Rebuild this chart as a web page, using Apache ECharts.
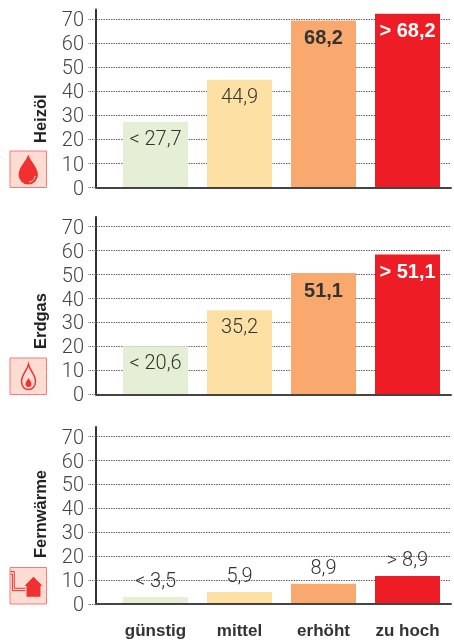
<!DOCTYPE html>
<html>
<head>
<meta charset="utf-8">
<style>
  html, body { margin: 0; padding: 0; background: #fff; }
  #chart { width: 454px; height: 641px; }
</style>
<script src="https://cdn.jsdelivr.net/npm/echarts@6/dist/echarts.min.js"></script>
</head>
<body>
<div id="chart"></div>
<script>
// Kategorien und Werte
const categories = ['günstig', 'mittel', 'erhöht', 'zu hoch']
const panelNames = ['Heizöl', 'Erdgas', 'Fernwärme']
const tickValues = [0, 10, 20, 30, 40, 50, 60, 70]

const heizoelValues = [27.4, 44.8, 69.4, 72.2]
const erdgasValues = [20.1, 35.1, 50.6, 58.4]
const fernwaermeValues = [3.0, 5.1, 8.5, 11.8]

const heizoelLabels = ['< 27,7', '44,9', '68,2', '> 68,2']
const erdgasLabels = ['< 20,6', '35,2', '51,1', '> 51,1']
const fernwaermeLabels = ['< 3,5', '5,9', '8,9', '> 8,9']

const barColors = ['#e5efd6', '#fde1a4', '#f9a96e', '#ee1c25']

const panels = [
  { name: panelNames[0], values: heizoelValues, labels: heizoelLabels, top: 9.5, bottom: 187.6 },
  { name: panelNames[1], values: erdgasValues, labels: erdgasLabels, top: 217, bottom: 394.4 },
  { name: panelNames[2], values: fernwaermeValues, labels: fernwaermeLabels, top: 427, bottom: 604.2, outside: true }
]

const font = 'Roboto, "Liberation Sans", sans-serif'
const boldFont = '"Liberation Sans", Arimo, sans-serif'
const dotted = { color: '#666', width: 1, type: [1.5, 1] }

const grid = []
const xAxis = []
const yAxis = []
const series = []
const graphic = []

// Tropfen, Flamme, Haus
const dropPath = 'M10 0C12 7 20 13 20 21A10 10 0 0 1 0 21C0 13 8 7 10 0Z'
const flamePath = 'M10 0C12 9 20 15 20 24C20 32 15 36 10 36C5 36 0 32 0 24C0 15 8 9 10 0Z'
const innerFlamePath = 'M5 0C6 3 10 6 10 10A5 5 0 0 1 0 10C0 6 4 3 5 0Z'
const housePath = 'M9 0L18 9L16 9L16 20L2 20L2 9L0 9Z'
const pipePath = 'M0 0H4V18H16M0 3H2V20.5H16'
const glossPath = 'M0 6C3 6 6 3 6 0'

function iconPath(d, x, y, w, h, style) {
  return { type: 'path', shape: { pathData: d, x: x, y: y, width: w, height: h, layout: 'center' }, style: style }
}

panels.forEach((p, i) => {
  const height = p.bottom - p.top
  // Achsen und Gitterlinien
  grid.push({ left: 96, width: 355, top: p.top, height: height })
  xAxis.push({
    type: 'category', gridIndex: i * 2, data: [], z: 5,
    axisLine: { lineStyle: { color: '#444', width: 2 } },
    axisTick: { show: false }, axisLabel: { show: false }
  })
  yAxis.push({
    type: 'value', gridIndex: i * 2, min: 0, max: 74, interval: 10,
    axisLine: { show: true, lineStyle: { color: '#333', width: 2 } },
    axisTick: { show: true, length: 8, lineStyle: dotted, customValues: tickValues },
    axisLabel: {
      margin: 12,
      customValues: tickValues,
      formatter: '{t|{value}}',
      rich: { t: { color: '#444', fontFamily: font, fontSize: 20, fontWeight: 300, padding: [4, 0, 0, 0] } }
    },
    splitLine: { show: true, lineStyle: dotted, customValues: tickValues }
  })
  // Balken
  grid.push({ left: 113.5, width: 336, top: p.top, height: height })
  xAxis.push({
    type: 'category', gridIndex: i * 2 + 1, data: categories,
    axisLine: { show: false }, axisTick: { show: false },
    axisLabel: i === 2
      ? { color: '#333', fontFamily: boldFont, fontWeight: 'bold', fontSize: 17, margin: 19 }
      : { show: false }
  })
  yAxis.push({ type: 'value', gridIndex: i * 2 + 1, min: 0, max: 74, show: false, splitLine: { show: false } })
  series.push({
    type: 'bar',
    xAxisIndex: i * 2 + 1,
    yAxisIndex: i * 2 + 1,
    barWidth: 65,
    data: p.values.map((v, k) => ({
      value: v,
      itemStyle: { color: barColors[k] },
      label: {
        show: true,
        formatter: p.labels[k],
        position: p.outside ? 'top' : 'insideTop',
        distance: p.outside ? 5 : 8,
        fontFamily: (!p.outside && k >= 2) ? boldFont : font,
        fontWeight: (!p.outside && k >= 2) ? 'bold' : 300,
        fontSize: 20,
        color: (!p.outside && k === 3) ? '#fff' : '#333'
      }
    }))
  })
})

// Beschriftung links
const nameBottoms = [143, 349, 558]
const iconTops = [151, 358, 567.5]
panels.forEach((p, i) => {
  graphic.push({
    type: 'text', x: 41, y: nameBottoms[i], rotation: Math.PI / 2,
    style: { text: p.name, fill: '#222', font: 'bold 16.5px ' + boldFont, textAlign: 'left', textVerticalAlign: 'middle' }
  })
  graphic.push({
    type: 'rect', shape: { x: 10, y: iconTops[i], width: 36.5, height: 36.5 },
    style: { fill: '#fddcd2', stroke: '#f77b78', lineWidth: 1 }
  })
})

const red = { fill: '#ef3131' }
series.push({
  type: 'custom',
  coordinateSystem: 'none',
  silent: true,
  z: 10,
  data: [0],
  renderItem: function () {
    return {
      type: 'group',
      children: [
        iconPath(dropPath, 18.5, 154.5, 19.5, 30, red),
        iconPath(glossPath, 29, 176, 6, 6, { fill: 'none', stroke: '#fddcd2', lineWidth: 1 }),
        iconPath(flamePath, 21.5, 363.5, 14, 27, { fill: 'none', stroke: '#ef3131', lineWidth: 1.5 }),
        iconPath(innerFlamePath, 25.5, 377, 6, 11, red),
        iconPath(housePath, 24.5, 576, 18, 21.5, red),
        iconPath(pipePath, 10.5, 570.5, 15, 21, { fill: 'none', stroke: '#ef3131', lineWidth: 1 })
      ]
    }
  }
})

const chart = echarts.init(document.getElementById('chart'))
chart.setOption({
  animation: false,
  grid: grid,
  xAxis: xAxis,
  yAxis: yAxis,
  series: series,
  graphic: graphic
})
</script>
</body>
</html>
